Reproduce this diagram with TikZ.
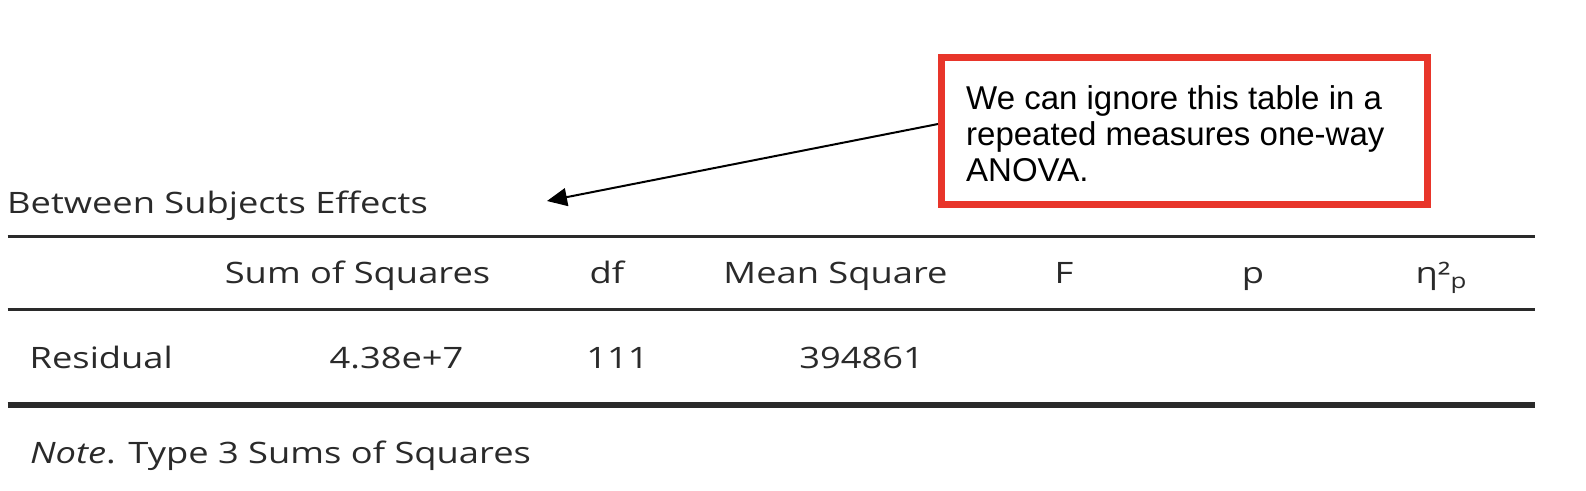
\documentclass[tikz,border=0pt]{standalone}
\usepackage{fontspec}
\usetikzlibrary{arrows.meta}
\newfontfamily\tabfont[FakeStretch=1.23]{Open Sans}
\newfontfamily\callfont{Liberation Sans}
\definecolor{ink}{HTML}{2A2A2A}
\definecolor{callred}{HTML}{E8352A}
\begin{document}
\begin{tikzpicture}[x=1pt,y=-1pt,
  tabtext/.style={inner sep=0pt, text=ink, font=\tabfont\fontsize{29.5}{35}\selectfont},
  hdr/.style={tabtext, anchor=base},
  cell/.style={tabtext, anchor=base},
  rulethin/.style={draw=ink, line width=3pt},
  rulethick/.style={draw=ink, line width=6pt},
  callbox/.style={draw=callred, line width=6.5pt, minimum width=486.25pt, minimum height=147pt, inner sep=0pt},
  calltext/.style={inner sep=0pt, align=left, font=\callfont\fontsize{33}{36}\selectfont, text=black},
  pointer/.style={draw=black, line width=2pt, -{Triangle[length=20pt,width=18pt]}}
]
\useasboundingbox (0,0) rectangle (1586,490);

% title
\node[tabtext, anchor=base west] (title) at (7,213) {Between Subjects Effects};

% rules
\draw[rulethin] (7.5,236) -- (1535,236);
\draw[rulethin] (7.5,309.5) -- (1535,309.5);
\draw[rulethick] (7.5,405) -- (1535,405);

% header
\node[hdr] (hss) at (357.5,283) {Sum of Squares};
\node[hdr] (hdf) at (607,283) {df};
\node[hdr] (hms) at (835.5,283) {Mean Square};
\node[hdr] (hF) at (1064,283) {F};
\node[hdr] (hp) at (1253,283) {p};
\node[hdr] (heta) at (1441,283) {η²\raisebox{-5pt}{\fontsize{21}{21}\selectfont p}};

% data row
\node[tabtext, anchor=base west] (res) at (29.5,368) {Residual};
\node[cell] (vss) at (396.5,368) {4.38e+7};
\node[cell] (vdf) at (617.5,368) {111};
\node[cell] (vms) at (861.5,368) {394861};

% note
\node[tabtext, anchor=base west] (note) at (30,463) {{\itshape Note}. Type 3 Sums of Squares};

% callout
\node[callbox] (box) at (1184.4,131) {};
\node[calltext, anchor=north west] (boxtext) at (966,85) {We can ignore this table in a\\repeated measures one-way\\ANOVA.};

\coordinate (tip) at (547,201);
\draw[pointer] ([yshift=7pt]box.west) -- (tip);
\end{tikzpicture}
\end{document}
